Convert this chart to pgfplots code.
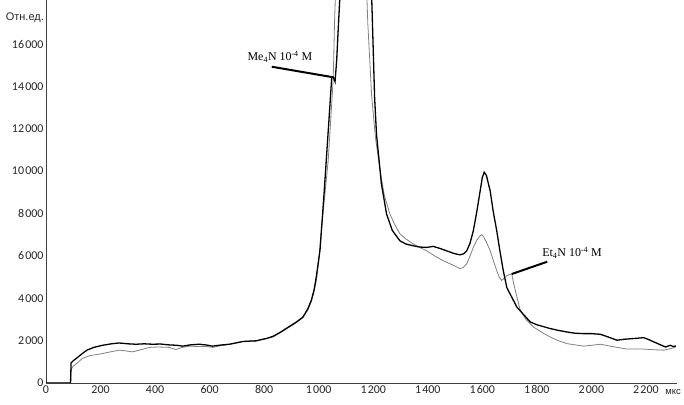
\documentclass[border=0pt]{standalone}
\usepackage{fontspec}
\setmainfont{Carlito}
\newfontfamily\serif{Liberation Serif}
\newfontfamily\cyr{Liberation Sans}
\usepackage{pgfplots}
\pgfplotsset{compat=1.18}

% Me4N (dark, thick)
\pgfplotstableread{
x y
0 0
90 0
92 950
100 1050
115 1200
133 1390
150 1550
175 1680
207 1780
240 1850
268 1890
300 1850
330 1830
360 1850
390 1830
420 1840
450 1800
480 1780
501 1740
530 1800
562 1830
590 1790
610 1740
640 1790
673 1830
700 1900
722 1960
750 1980
771 1990
790 2050
808 2100
832 2200
860 2400
890 2650
915 2850
942 3110
960 3500
973 3900
983 4400
991 4990
1005 6300
1020 9000
1035 11900
1048 14450
1053 14450
1060 14220
1066 15240
1072 16800
1078 18300
1090 22000
1120 30000
1160 30000
1190 20000
1196 17500
1205 13500
1212 11740
1230 9400
1249 7970
1270 7200
1298 6710
1320 6560
1346 6480
1370 6420
1396 6400
1420 6450
1445 6350
1469 6240
1495 6120
1518 6050
1532 6100
1543 6240
1555 6600
1567 7180
1580 8100
1592 9060
1600 9700
1607 9950
1615 9800
1629 9060
1640 8100
1653 7180
1665 6200
1677 5300
1690 4500
1702 4200
1727 3580
1750 3250
1776 2880
1800 2750
1849 2570
1880 2480
1910 2410
1940 2350
1972 2330
2000 2330
2033 2300
2060 2180
2094 2020
2125 2070
2156 2100
2192 2140
2210 2050
2229 1940
2250 1820
2272 1700
2290 1780
2300 1720
2310 1750
}\meN

% Et4N (grey, thin)
\pgfplotstableread{
x y
0 0
90 0
92 640
100 800
115 950
133 1160
160 1290
207 1390
240 1480
268 1550
290 1520
317 1470
345 1560
379 1680
410 1700
452 1680
476 1580
500 1680
526 1740
560 1720
590 1720
612 1680
640 1760
673 1830
700 1900
722 1960
771 1990
808 2100
832 2170
860 2380
890 2620
915 2820
942 3080
960 3450
973 3850
983 4300
991 4800
1000 5700
1011 7380
1035 10520
1050 13670
1053 14300
1055 15240
1058 17000
1062 18500
1080 25000
1150 28000
1172 20000
1180 17000
1194 13600
1208 11600
1224 10140
1240 8900
1261 7980
1280 7450
1298 7040
1320 6800
1346 6570
1370 6400
1396 6240
1425 6000
1457 5770
1490 5580
1518 5400
1530 5450
1543 5630
1555 6000
1567 6400
1580 6750
1592 6950
1598 7000
1605 6900
1615 6650
1629 6240
1640 5800
1653 5300
1662 5000
1671 4840
1680 4950
1690 5070
1700 5120
1708 5150
1715 4700
1727 4050
1739 3450
1760 3000
1788 2640
1820 2380
1849 2170
1880 1990
1910 1860
1940 1800
1972 1740
2000 1780
2033 1830
2050 1790
2070 1740
2100 1670
2131 1600
2160 1610
2192 1600
2230 1570
2266 1550
2290 1620
2309 1700
}\etN

\begin{document}
\begin{tikzpicture}
\begin{axis}[
    scale only axis,
    width=631bp, height=383bp,
    xmin=0, xmax=2314,
    ymin=0, ymax=18080,
    clip mode=individual,
    axis x line*=bottom,
    axis y line*=left,
    axis line style={black!75, line width=0.8bp},
    xtick={0,200,...,2200},
    ytick={0,2000,...,16000},
    scaled ticks=false,
    tick style={draw=none},
    tick label style={font=\fontsize{12}{14}\selectfont, black!85},
    /pgf/number format/assume math mode=true,
    /pgf/number format/1000 sep={\kern1.2pt},
    xticklabel style={yshift=1pt},
    yticklabel style={xshift=1pt},
]
\coordinate (O) at (rel axis cs:0,0);
\addplot[black!50, line width=0.8bp] table {\etN};
\addplot[black, line width=1.3bp] table {\meN};

\draw[black, line width=2bp] (axis cs:828,14930) -- (axis cs:1045,14450);
\node[font=\serif\fontsize{12}{14}\selectfont] at (axis cs:858,15400)
    {Me\textsubscript{4}N 10\textsuperscript{-4} M};
\draw[black, line width=2bp] (axis cs:1708,5145) -- (axis cs:1838,5725);
\node[font=\serif\fontsize{12}{14}\selectfont] at (axis cs:1929,6135)
    {Et\textsubscript{4}N 10\textsuperscript{-4} M};

\node[anchor=east, font=\cyr\fontsize{11}{13}\selectfont, text=black!85, inner sep=2pt] at (axis cs:0,17250) {Отн.ед.};
\node[anchor=north, font=\cyr\fontsize{9.5}{11}\selectfont, text=black!85, yshift=-3pt] at (axis cs:2300,0) {мкс};
\end{axis}
\pgfresetboundingbox
\path (O) ++(-46bp,-22bp) rectangle ++(684bp,405bp);
\end{tikzpicture}
\end{document}
